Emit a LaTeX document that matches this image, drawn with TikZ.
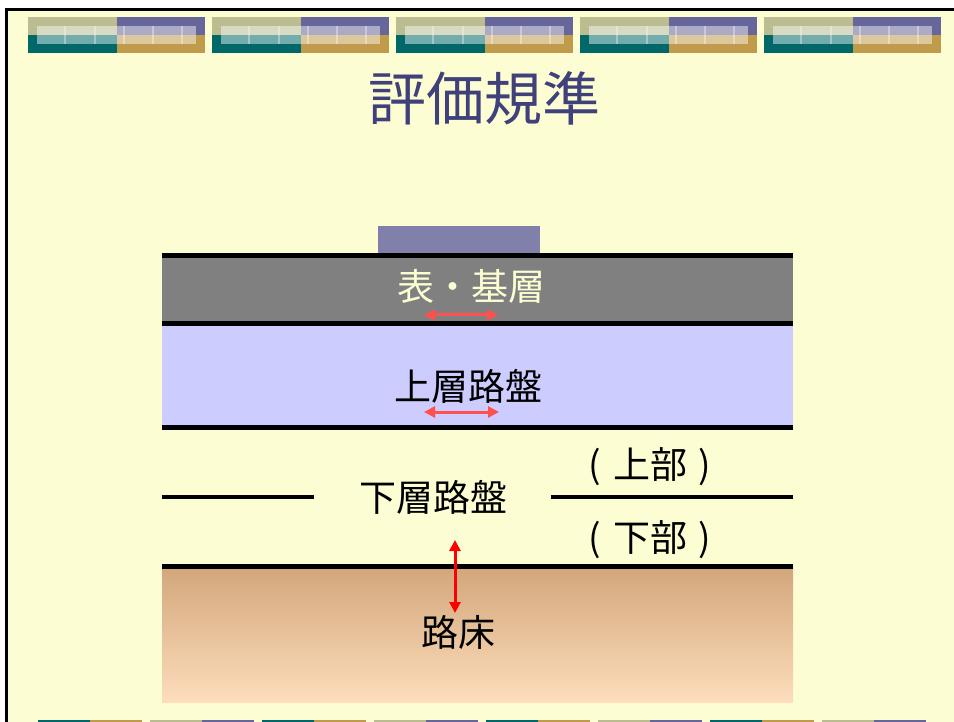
\documentclass[tikz,border=0pt]{standalone}
\usepackage{fontspec}
\setmainfont{Noto Sans CJK JP}
\usetikzlibrary{arrows.meta}
\definecolor{slidebg}{RGB}{253,253,211}
\definecolor{tileolive}{RGB}{187,189,145}
\definecolor{tilepurple}{RGB}{102,102,154}
\definecolor{tileteal}{RGB}{0,104,104}
\definecolor{tilegold}{RGB}{192,155,76}
\definecolor{titleblue}{RGB}{64,64,122}
\definecolor{capblue}{RGB}{128,128,170}
\definecolor{basegray}{RGB}{128,128,128}
\definecolor{uppblue}{RGB}{204,204,255}
\definecolor{soiltop}{RGB}{210,166,122}
\definecolor{soilbot}{RGB}{253,221,188}
\definecolor{softred}{RGB}{255,80,80}
\tikzset{
  label/.style={inner sep=0pt,font=\fontsize{37}{37}\selectfont},
  layerline/.style={line width=5pt},
  spanarrow/.style={{Triangle[length=11pt,width=11pt]}-{Triangle[length=11pt,width=11pt]},line width=3pt}
}
\begin{document}
\begin{tikzpicture}[x=1pt,y=-1pt]
\useasboundingbox (0,0) rectangle (954,722);
\fill[white] (0,0) rectangle (954,722);
\fill[slidebg] (6,10) rectangle (954,722);
\draw[line width=3pt] (6,722) -- (6,10) -- (954,10);

% tiles at the top
\foreach \x in {28,212,396,580,764} {
  \fill[tileolive] (\x,17) rectangle ++(89,18);
  \fill[tilepurple] (\x+89,17) rectangle ++(88,18);
  \fill[tileteal] (\x,35) rectangle ++(89,18);
  \fill[tilegold] (\x+89,35) rectangle ++(88,18);
  \fill[white,opacity=.45] (\x+9,26) rectangle ++(159,18.5);
  \foreach \d in {37,67,96,125,154}
    \draw[white,opacity=.35,line width=1.2pt] (\x+\d,26) -- ++(0,18.5);
}
% tiles at the bottom
\foreach \x in {38,262,486,710} {
  \fill[tileteal] (\x,720) rectangle ++(52,10);
  \fill[tilegold] (\x+52,720) rectangle ++(52,10);
}
\foreach \x in {150,374,598,822} {
  \fill[tileolive] (\x,720) rectangle ++(52,10);
  \fill[tilepurple] (\x+52,720) rectangle ++(52,10);
}

\node[inner sep=0pt,text=titleblue,font=\fontsize{58}{58}\selectfont] (title) at (484,98) {評価規準};

% layers
\fill[capblue] (378,226) rectangle (540,254);
\fill[basegray] (162,254) rectangle (793,325);
\fill[uppblue] (162,325) rectangle (793,427);
\shade[top color=soiltop,bottom color=soilbot] (162,566) rectangle (793,702);
\draw[layerline] (162,256) -- (793,256);
\draw[layerline] (162,324) -- (793,324);
\draw[layerline] (162,427.5) -- (793,427.5);
\draw[layerline] (162,566) -- (793,566);
\draw[line width=4pt] (162,497) -- (314,497);
\draw[line width=4pt] (551,497) -- (793,497);

\node[label,text=slidebg] (surface) at (471,286) {表・基層};
\node[label] (upper) at (468,386) {上層路盤};
\node[label] (lower) at (433,497) {下層路盤};
\node[label] (lowtop) at (650,467) {(\hspace{13pt}上部\hspace{11pt})};
\node[label] (lowbot) at (650,540) {(\hspace{13pt}下部\hspace{11pt})};
\node[label] (subgrade) at (458,632) {路床};

\coordinate (sa) at (424,315);
\coordinate (sb) at (498,315);
\coordinate (ua) at (424,412);
\coordinate (ub) at (499,412);
\coordinate (ga) at (455,540);
\coordinate (gb) at (455,613);
\draw[spanarrow,softred] (sa) -- (sb);
\draw[spanarrow,softred] (ua) -- (ub);
\draw[spanarrow,red] (ga) -- (gb);
\end{tikzpicture}
\end{document}
